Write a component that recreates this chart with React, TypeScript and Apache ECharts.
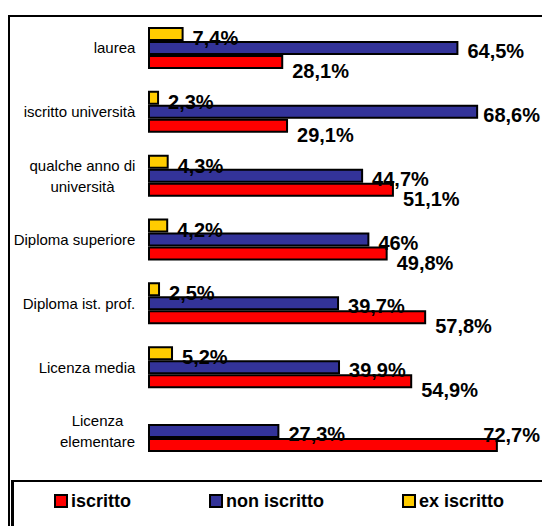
import React, { useEffect, useRef } from "react";
import * as echarts from "echarts";

const categories = [
  "laurea",
  "iscritto università",
  "qualche anno di\nuniversità",
  "Diploma superiore",
  "Diploma ist. prof.",
  "Licenza media",
  "Licenza\nelementare",
];
const seriesNames = ["ex iscritto", "non iscritto", "iscritto"];
const exIscritto: (number | null)[] = [7.4, 2.3, 4.3, 4.2, 2.5, 5.2, null];
const nonIscritto: (number | null)[] = [64.5, 68.6, 44.7, 46, 39.7, 39.9, 27.3];
const iscritto: (number | null)[] = [28.1, 29.1, 51.1, 49.8, 57.8, 54.9, 72.7];
const legendOrder = ["iscritto", "non iscritto", "ex iscritto"];

const FONT = 'Arial, "Liberation Sans", Helvetica, sans-serif';
const GRID_LEFT = 148;
const GRID_WIDTH = 385;
const X_MAX = 80;
const LABEL_RIGHT_LIMIT = 540;
const LABEL_GAP = 9;
const LABEL_SIZE = 20;

function fmt(v: number) {
  return String(v).replace(".", ",") + "%";
}

export default function App() {
  const ref = useRef<HTMLDivElement>(null);
  useEffect(() => {
    if (!ref.current) return;
    const chart = echarts.init(ref.current, null, { renderer: "svg" });
    const canvas = document.createElement("canvas");
    const ctx = canvas.getContext("2d")!;
    ctx.font = `bold ${LABEL_SIZE}px ${FONT}`;
    const measureBold = (t: string) => ctx.measureText(t).width;
    const ctx2 = document.createElement("canvas").getContext("2d")!;
    ctx2.font = `15px ${FONT}`;

    const rich: Record<string, any> = {};
    categories.forEach((c, i) => {
      const w = Math.max(...c.split("\n").map((l) => ctx2.measureText(l).width));
      rich["c" + i] = {
        width: Math.ceil(w) + 1,
        align: "center",
        fontSize: 15,
        fontFamily: FONT,
        color: "#000",
        lineHeight: 21,
      };
    });

    // vertical label shifts: per series, with a per-label override (label pushed up when clamped)
    const mk = (vals: (number | null)[], dy: number, clampDy: number) =>
      vals.map((v) => {
        if (v == null) return "-";
        const barEnd = GRID_LEFT + (v * GRID_WIDTH) / X_MAX;
        const w = measureBold(fmt(v));
        const room = LABEL_RIGHT_LIMIT - w - barEnd;
        const dx = Math.min(LABEL_GAP, room);
        const yy = room < 0 ? clampDy : dy;
        return { value: v, label: { offset: [dx, yy] } };
      });

    const colors: Record<string, string> = {
      "ex iscritto": "#FFCC00",
      "non iscritto": "#333399",
      iscritto: "#FF0000",
    };
    const dataSets = [mk(exIscritto, 4, 4), mk(nonIscritto, 3, 3), mk(iscritto, 9, -10)];

    chart.setOption({
      animation: false,
      grid: { left: GRID_LEFT, top: 16, width: GRID_WIDTH, height: 447 },
      xAxis: { type: "value", min: 0, max: X_MAX, show: false },
      yAxis: {
        type: "category",
        data: categories,
        inverse: true,
        axisLine: { show: false },
        axisTick: { show: false },
        axisLabel: {
          margin: 12,
          align: "right",
          rich,
          formatter: (val: string, idx: number) =>
            val
              .split("\n")
              .map((l) => `{c${idx}|${l}}`)
              .join("\n"),
        },
      },
      legend: {
        data: legendOrder,
        left: 54,
        top: 492,
        padding: 0,
        itemWidth: 12,
        itemHeight: 12,
        itemGap: 78,
        icon: "rect",
        itemStyle: { borderColor: "#000", borderWidth: 2 },
        textStyle: {
          fontFamily: FONT,
          fontWeight: "bold",
          fontSize: 18,
          color: "#000",
          padding: [0, 0, 0, -1],
        },
      },
      series: seriesNames.map((n, i) => ({
        name: n,
        type: "bar",
        data: dataSets[i],
        barWidth: 14,
        barGap: "0%",
        itemStyle: { color: colors[n], borderColor: "#000", borderWidth: 2 },
        label: {
          show: true,
          position: "right",
          distance: 0,
          formatter: (p: any) => fmt(p.value),
          fontFamily: FONT,
          fontWeight: "bold",
          fontSize: LABEL_SIZE,
          color: "#000",
        },
      })),
      graphic: [
        {
          type: "rect",
          shape: { x: 9, y: 16, width: 600, height: 600 },
          style: { fill: "none", stroke: "#000", lineWidth: 2 },
          silent: true,
        },
        {
          type: "rect",
          shape: { x: 12, y: 481, width: 600, height: 100 },
          style: { fill: "none", stroke: "#000", lineWidth: 2 },
          silent: true,
        },
        {
          type: "line",
          shape: { x1: 12.5, y1: 481, x2: 12.5, y2: 540 },
          style: { stroke: "#000", lineWidth: 3 },
          silent: true,
        },
      ],
    });
    return () => chart.dispose();
  }, []);
  return (
    <div
      ref={ref}
      style={{ position: "fixed", left: 0, top: 0, width: 542, height: 526, background: "#fff" }}
    />
  );
}
